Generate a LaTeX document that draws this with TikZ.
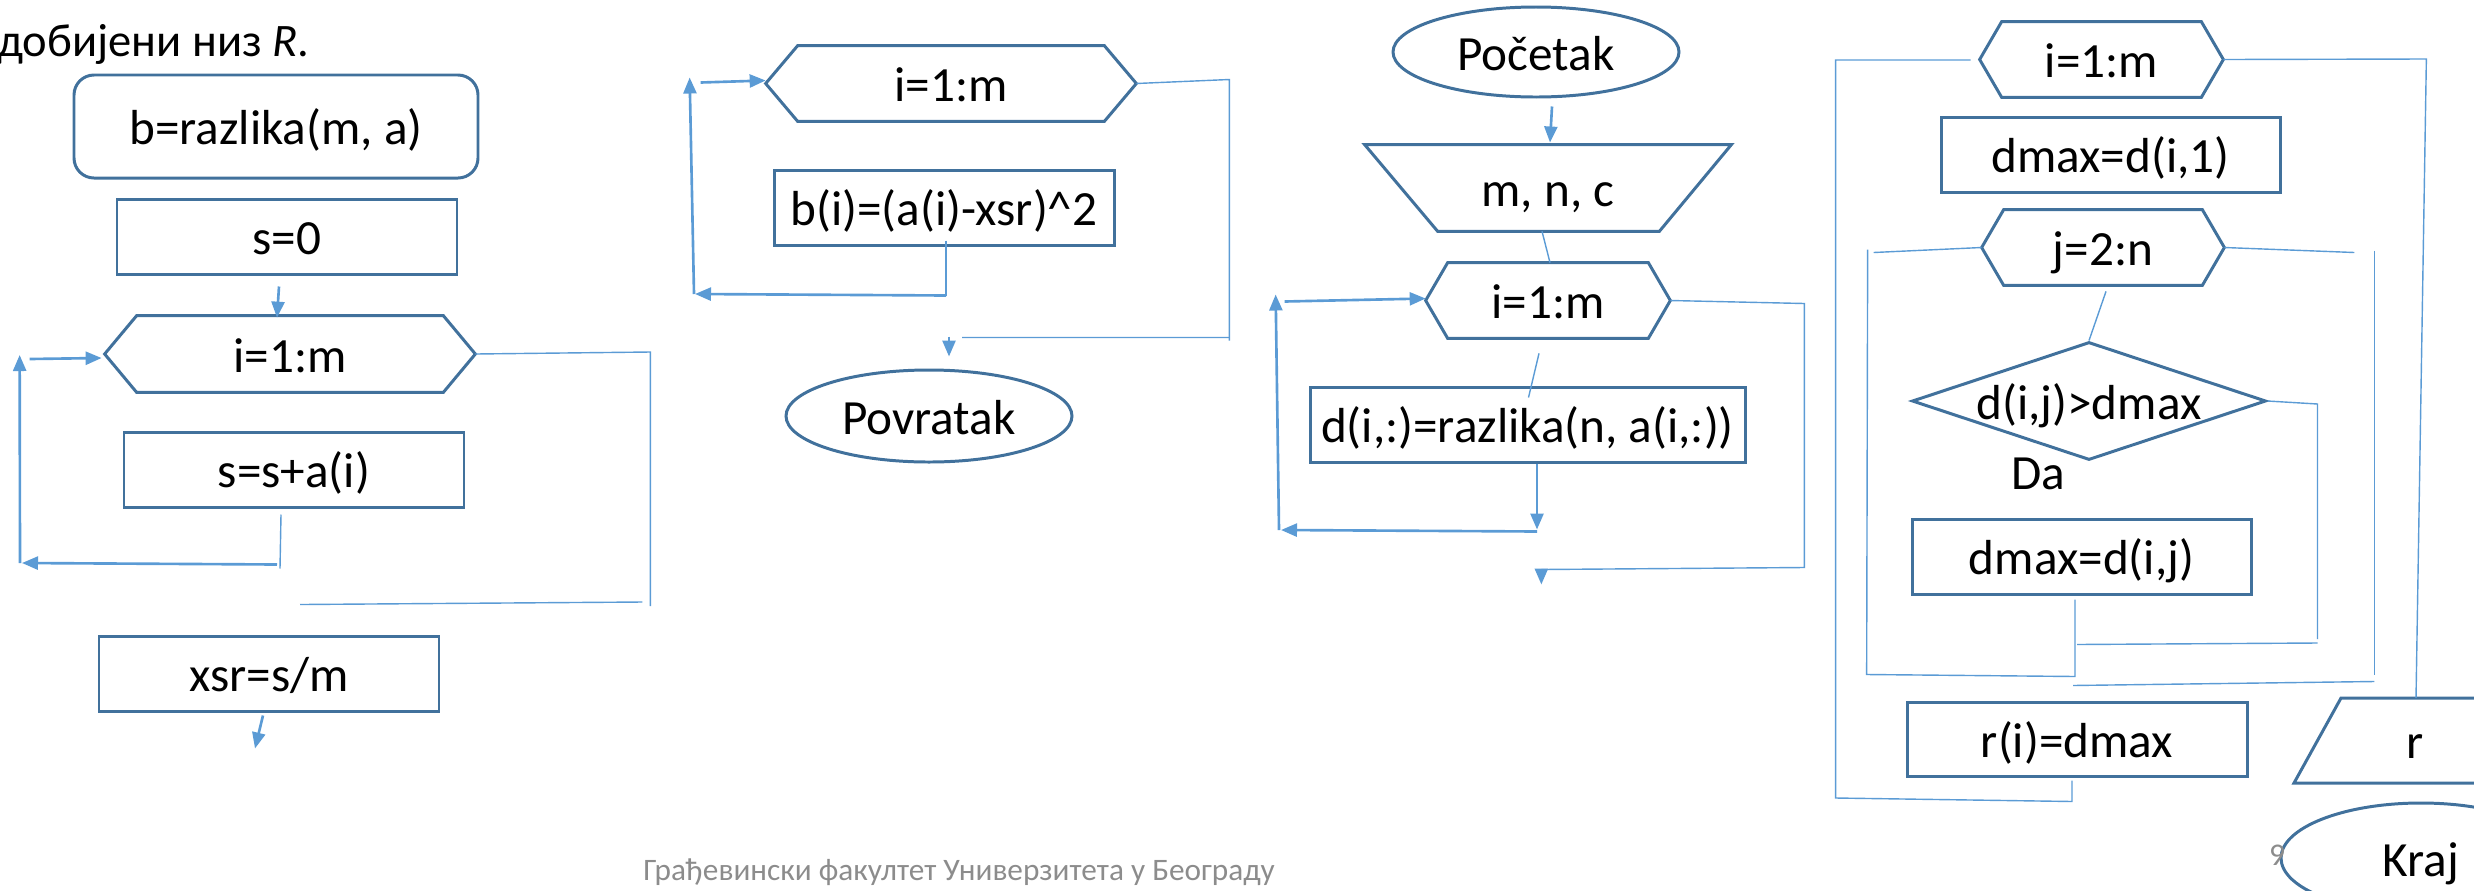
\documentclass[tikz,border=0pt]{standalone}
\usepackage{fontspec}
\setmainfont{Carlito}
\usetikzlibrary{arrows.meta,calc,shapes.geometric}
\definecolor{shapeblue}{HTML}{41719C}
\definecolor{linkblue}{HTML}{5B9BD5}
\definecolor{footgray}{HTML}{8C8C8C}

\tikzset{
  txt/.style={font=\fontsize{28}{33}\selectfont, text=black, text height=25pt, text depth=4pt},
  outl/.style={draw=shapeblue, line width=1.7pt},
  box/.style={txt, outl, rectangle, inner sep=0pt, minimum width=340*0.02cm, minimum height=75*0.02cm},
  ell/.style={txt, outl, ellipse, inner sep=0pt},
  link/.style={draw=linkblue, line width=0.8pt},
  flow/.style={draw=linkblue, line width=1.5pt, -{Triangle[length=0.32cm,width=0.26cm]}},
  foot/.style={font=\fontsize{17.8}{21}\selectfont, text=footgray, inner sep=0pt},
}

% loop header: hexagon with pointed left and right ends
\newcommand{\flowhex}[7]{%
  \node[txt, inner sep=0pt, minimum width=#4*0.02cm, minimum height=#5*0.02cm] (#1) at (#2,#3) {#7};
  \draw[outl] (#1.west) -- ($(#1.north west)+(#6,0)$) -- ($(#1.north east)+(-#6,0)$)
    -- (#1.east) -- ($(#1.south east)+(-#6,0)$) -- ($(#1.south west)+(#6,0)$) -- cycle;
}

\begin{document}
\begin{tikzpicture}[x=0.02cm, y=-0.02cm]
\useasboundingbox (0,0) rectangle (2474,890);
\clip (0,0) rectangle (2474,890);

\node[anchor=base west, inner sep=0pt, font=\fontsize{26.5}{31}\selectfont] (title) at (-3,56) {добијени низ \textit{R}.};

% ---------- function razlika: mean and squared deviations ----------
\node[box, rounded corners=0.4cm, minimum width=404*0.02cm, minimum height=103*0.02cm] (b1) at (276,126.5) {b=razlika(m, a)};
\node[box] (s0) at (287,236.5) {s=0};
\flowhex{h1}{290}{354}{370}{76}{32}{i=1:m}
\node[box] (ssum) at (294,469.5) {s=s+a(i)};
\node[box] (xsr) at (269,673.5) {xsr=s/m};

\draw[flow] ($(s0.south)+(-8,11)$) -- ($(h1.north)+(-13,2)$);
\draw[flow] ($(h1.west)+(-75,5)$) -- ($(h1.west)+(-3,4)$);
\coordinate (L1b) at (20,563);
\draw[flow] (L1b) -- ($(h1.west)+(-85,1)$);
\draw[link] ($(ssum.south)+(-13,6)$) -- ($(ssum.south)+(-14,60)$);
\draw[flow] ($(ssum.south)+(-17,56)$) -- ($(L1b)+(2,0)$);
\draw[link] (h1.east) -- ($(h1.east)+(175,-2)$) coordinate (e1) -- ($(e1)+(0,254)$);
\draw[link] ($(e1)+(-8,250)$) -- ($(xsr.north)+(31,-30)$);
\draw[flow] ($(xsr.south)+(-6,3)$) -- ($(xsr.south)+(-14,36)$);

% ---------- second loop of razlika ----------
\flowhex{h2}{951}{83.5}{370}{75}{32}{i=1:m}
\node[box] (bsq) at (944,207.5) {b(i)=(a(i)-xsr)\textasciicircum 2};
\node[ell, minimum width=286*0.02cm, minimum height=92*0.02cm] (ret) at (929,416) {Povratak};

\draw[flow] ($(h2.west)+(-65,-1)$) -- ($(h2.west)+(0,-3)$);
\coordinate (L2b) at (694,294);
\draw[flow] (L2b) -- ($(h2.west)+(-76,-6)$);
\draw[link] ($(bsq.south)+(2,-6)$) -- ($(bsq.south)+(2,49)$);
\draw[flow] ($(bsq.south)+(2,49)$) -- ($(L2b)+(1,0)$);
\draw[link] (h2.east) -- ($(h2.east)+(93,-4)$) coordinate (e2) -- ($(e2)+(0,261)$);
\draw[link] ($(e2)+(0,258)$) -- ($(ret.north)+(33,-31)$);
\draw[flow] ($(ret.north)+(20,-32)$) -- ($(ret.north)+(20,-12)$);

% ---------- main program ----------
\node[ell, minimum width=286*0.02cm, minimum height=90*0.02cm] (start) at (1536,52) {Početak};
\node[txt, inner sep=0pt, minimum width=366*0.02cm, minimum height=86*0.02cm] (inp) at (1548,188) {m, n, c};
\draw[outl] (inp.north west) -- (inp.north east) -- ($(inp.south east)+(-72,0)$) -- ($(inp.south west)+(73,0)$) -- cycle;
\flowhex{h3}{1548}{300.5}{244}{75}{22}{i=1:m}
\node[box, minimum width=435*0.02cm] (dbox) at (1527.5,424.5) {d(i,:)=razlika(n, a(i,:))};

\draw[flow] ($(start.south)+(16,8)$) -- ($(start.south)+(14,44)$);
\draw[link] ($(inp.south)+(-6,0)$) -- ($(h3.north)+(2,0)$);
\draw[flow] ($(h3.west)+(-141,1)$) -- ($(h3.west)+(0,-2)$);
\coordinate (L3b) at (1279,530);
\draw[flow] (L3b) -- ($(h3.west)+(-150,-6)$);
\draw[link] ($(h3.south)+(-9,15)$) -- ($(dbox.north)+(1,12)$);
\draw[flow] ($(dbox.south)+(9.5,0)$) -- ($(dbox.south)+(9.5,66)$);
\draw[flow] ($(dbox.south)+(9.5,68)$) -- ($(L3b)+(2,0)$);
\draw[link] (h3.east) -- ($(h3.east)+(134,3)$) coordinate (e3) -- ($(e3)+(0,264)$) -- ($(e3)+(-263,266)$);
\draw[flow] ($(e3)+(-263,266)$) -- ($(e3)+(-263,281)$);

% ---------- row maxima ----------
\flowhex{h4}{2101.5}{59.5}{243}{75}{22}{i=1:m}
\node[box, minimum width=339*0.02cm] (dm1) at (2110.5,154.5) {dmax=d(i,1)};
\flowhex{h5}{2103}{247.5}{242}{75}{22}{j=2:n}
\node[diamond, outl, inner sep=0pt, minimum width=354*0.02cm, minimum height=118*0.02cm,
      label={[txt, inner sep=0pt]center:{d(i,j)>dmax}}] (cond) at (2089,401) {};
\node[txt, inner sep=0pt] (da) at (2038,471) {Da};
\node[box, minimum width=339*0.02cm] (dmj) at (2081.5,556.5) {dmax=d(i,j)};
\node[box, minimum height=74*0.02cm] (ri) at (2077,739) {r(i)=dmax};
\node[txt, inner sep=0pt] (outr) at (2415,740.5) {r};
\draw[outl] ($(outr)+(-74,-42.5)$) -- ($(outr)+(200,-42.5)$) -- ($(outr)+(153,42.5)$) -- ($(outr)+(-121,42.5)$) -- cycle;
\node[ell, minimum width=280*0.02cm, minimum height=110*0.02cm] (kraj) at (2421,858) {Kraj};

\draw[link] ($(h4.west)+(-9,0.5)$) -- ($(h4.west)+(-144,0.5)$) coordinate (o1) -- ($(o1)+(0,738)$)
  -- ($(ri.south)+(-5,24)$) -- ($(ri.south)+(-5,3)$);
\draw[link] (h4.east) -- ($(h4.east)+(203,-0.5)$) -- ($(outr)+(1,-42.5)$);
\draw[link] (h5.west) -- ($(h5.west)+(-108,5)$);
\draw[link] ($(h5.west)+(-114,2)$) -- ($(h5.west)+(-115,427)$) -- ($(dmj.south)+(-6.5,81)$) -- ($(dmj.south)+(-6.5,4)$);
\draw[link] (h5.east) -- ($(h5.east)+(130,5)$);
\draw[link] ($(h5.east)+(150,3)$) -- ($(h5.east)+(150,427)$);
\draw[link] ($(h5.east)+(150,434)$) -- ($(dmj.south)+(-8.5,90)$);
\draw[link] ($(h5.south)+(3,6)$) -- (cond.north);
\draw[link] (cond.east) -- ($(cond.east)+(50,3)$) coordinate (e5) -- ($(e5)+(0,235)$);
\draw[link] ($(e5)+(0,239)$) -- ($(dmj.south)+(-4.5,49)$);

% ---------- slide footer ----------
\node[foot, anchor=base west] (footer) at (643,880) {Грађевински факултет Универзитета у Београду};
\node[foot, font=\fontsize{18}{21}\selectfont] (pg) at (2277,855) {9};
\end{tikzpicture}
\end{document}
